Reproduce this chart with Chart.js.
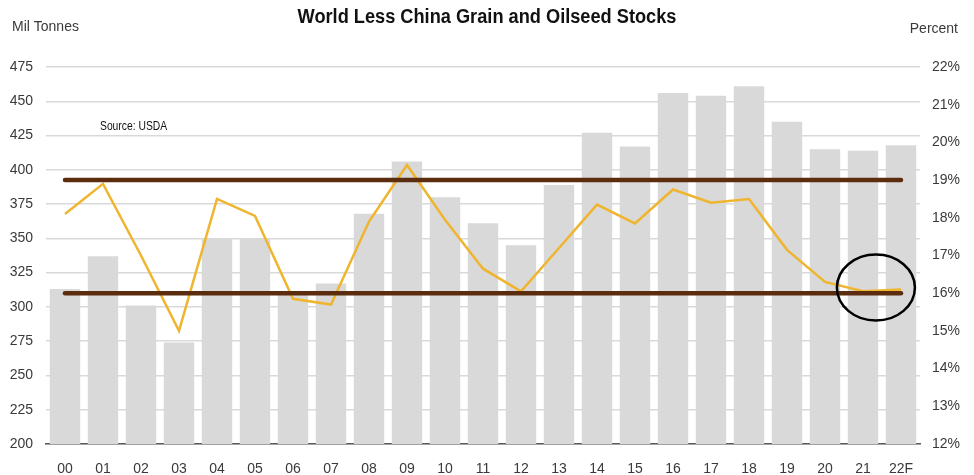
<!DOCTYPE html>
<html>
<head>
<meta charset="utf-8">
<title>World Less China Grain and Oilseed Stocks</title>
<script src="https://cdn.jsdelivr.net/npm/chart.js@4/dist/chart.umd.min.js"></script>
<style>
  html, body { margin: 0; padding: 0; background: #fff; }
  #wrap { width: 974px; height: 475px; position: relative; }
</style>
</head>
<body>
<div id="wrap"><canvas id="stocks"></canvas></div>
<script>
const years = ['00', '01', '02', '03', '04', '05', '06', '07', '08', '09', '10', '11',
               '12', '13', '14', '15', '16', '17', '18', '19', '20', '21', '22F'];

// ending stocks, million tonnes (left axis)
const stocks = [313, 337, 301, 274, 350, 350, 309, 317, 368, 406, 380, 361,
                345, 389, 427, 417, 456, 454, 461, 435, 415, 414, 418];

// stocks-to-use, percent (right axis)
const stocksToUse = [18.1, 18.9, 17.0, 15.0, 18.5, 18.05, 15.85, 15.7, 17.9, 19.4, 17.95, 16.65,
                     16.05, 17.2, 18.35, 17.85, 18.75, 18.4, 18.5, 17.15, 16.3, 16.05, 16.1];

// upper and lower range lines, percent
const rangeHigh = [19, 19, 19, 19, 19, 19, 19, 19, 19, 19, 19, 19,
                   19, 19, 19, 19, 19, 19, 19, 19, 19, 19, 19];
const rangeLow = [16, 16, 16, 16, 16, 16, 16, 16, 16, 16, 16, 16,
                  16, 16, 16, 16, 16, 16, 16, 16, 16, 16, 16];

const leftTicks = [200, 225, 250, 275, 300, 325, 350, 375, 400, 425, 450, 475];
const rightTicks = [12, 13, 14, 15, 16, 17, 18, 19, 20, 21, 22];

const FONT = "'Liberation Sans Narrow', 'Arial Narrow', 'Liberation Sans', Arial, sans-serif";
const TEXT = '#3a3a3a';

// squeeze text horizontally so the regular face reads like a narrow one
function narrowText(ctx, text, x, y, squeeze) {
  ctx.save();
  ctx.translate(x, y);
  ctx.scale(squeeze, 1);
  ctx.fillText(text, 0, 0);
  ctx.restore();
}

// title, axis unit captions, source note and the highlight ring
const annotations = {
  id: 'annotations',
  afterDatasetsDraw(chart) {
    const { ctx, scales } = chart;
    ctx.save();
    ctx.textBaseline = 'middle';

    ctx.fillStyle = '#111';
    ctx.textAlign = 'center';
    ctx.font = 'bold 20px ' + FONT;
    narrowText(ctx, 'World Less China Grain and Oilseed Stocks', 487, 17, 0.91);

    ctx.fillStyle = TEXT;
    ctx.font = '14px ' + FONT;
    ctx.textAlign = 'left';
    narrowText(ctx, 'Mil Tonnes', 12, 27, 1);
    ctx.textAlign = 'right';
    narrowText(ctx, 'Percent', 958, 29, 1);

    ctx.fillStyle = '#111';
    ctx.textAlign = 'left';
    ctx.font = '12px ' + FONT;
    narrowText(ctx, 'Source: USDA', 100, 127, 0.86);

    const cx = scales.x.getPixelForValue(21.34);
    const cy = scales.y1.getPixelForValue(16.15);
    ctx.beginPath();
    ctx.ellipse(cx, cy, 39, 33, 0, 0, Math.PI * 2);
    ctx.lineWidth = 2.5;
    ctx.strokeStyle = '#000';
    ctx.stroke();
    ctx.restore();
  }
};

new Chart(document.getElementById('stocks'), {
  type: 'bar',
  data: {
    labels: years,
    datasets: [
      {
        label: 'Range high', type: 'line', data: rangeHigh, yAxisID: 'y1',
        borderColor: '#5b2c0d', borderWidth: 4.5, borderCapStyle: 'round',
        pointRadius: 0, order: 1
      },
      {
        label: 'Range low', type: 'line', data: rangeLow, yAxisID: 'y1',
        borderColor: '#5b2c0d', borderWidth: 4.5, borderCapStyle: 'round',
        pointRadius: 0, order: 1
      },
      {
        label: 'Stocks-to-use', type: 'line', data: stocksToUse, yAxisID: 'y1',
        borderColor: '#efb52e', borderWidth: 2.5, borderJoinStyle: 'miter',
        pointRadius: 0, tension: 0, order: 2
      },
      {
        label: 'Stocks', data: stocks, yAxisID: 'y',
        backgroundColor: '#d9d9d9', borderWidth: 0,
        categoryPercentage: 1, barPercentage: 0.8, order: 3
      }
    ]
  },
  options: {
    responsive: true,
    maintainAspectRatio: false,
    animation: false,
    layout: { padding: { top: 67, bottom: 0, left: 0, right: 0 } },
    plugins: { legend: { display: false }, tooltip: { enabled: false } },
    scales: {
      x: {
        grid: { display: false },
        border: { display: true, color: '#595959', width: 1.5 },
        ticks: { color: TEXT, font: { family: FONT, size: 14 }, padding: 9, maxRotation: 0, autoSkip: false },
        afterFit(scale) { scale.height = 31; }
      },
      y: {
        position: 'left',
        min: 200, max: 475,
        afterBuildTicks(scale) { scale.ticks = leftTicks.map(v => ({ value: v })); },
        grid: { color: '#d9d9d9', lineWidth: 1.5, drawTicks: false },
        border: { display: false },
        ticks: { color: TEXT, font: { family: FONT, size: 14 }, padding: 13 },
        afterFit(scale) { scale.width = 46; }
      },
      y1: {
        position: 'right',
        min: 12, max: 22,
        afterBuildTicks(scale) { scale.ticks = rightTicks.map(v => ({ value: v })); },
        grid: { display: false, drawTicks: false },
        border: { display: false },
        ticks: { color: TEXT, font: { family: FONT, size: 14 }, padding: 12, callback: v => v + '%' },
        afterFit(scale) { scale.width = 54; }
      }
    }
  },
  plugins: [annotations]
});
</script>
</body>
</html>
